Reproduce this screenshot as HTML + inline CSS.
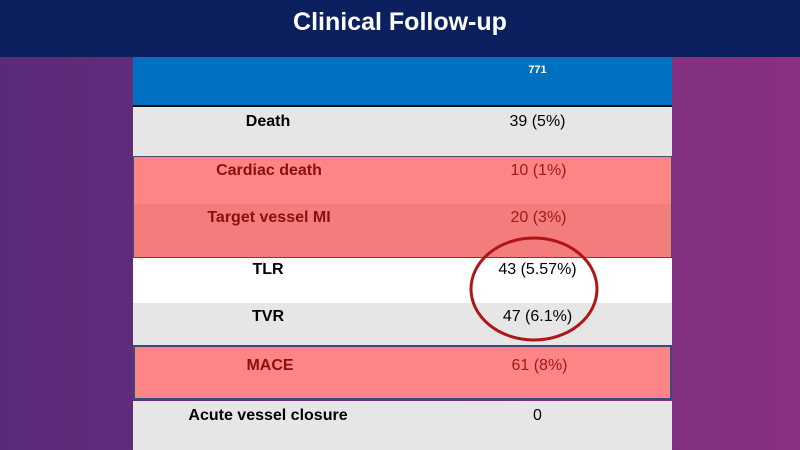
<!DOCTYPE html>
<html><head><meta charset="utf-8"><style>
body{margin:0;width:800px;height:450px;overflow:hidden;font-family:"Liberation Sans",Calibri,sans-serif;}
#bg{position:absolute;left:0;top:0;width:800px;height:450px;background:linear-gradient(90deg,#5a2a78,#6e2e7e 50%,#8a3080);}
#title{position:absolute;left:0;top:0;width:800px;height:57px;background:#0c1f5e;color:#fff;font-weight:bold;font-size:25px;text-align:center;line-height:44px;}
.r{position:absolute;left:133px;width:539px;font-size:16px;box-sizing:border-box;}
.r span{position:absolute;top:6px;}
.l{left:0;width:270px;text-align:center;font-weight:bold;}
.v{left:270px;width:269px;text-align:center;}
.red{color:#8b0f0f;}
.red .v{color:#a01818;}
</style></head><body>
<div id="bg"></div>
<div id="title">Clinical Follow-up</div>
<div class="r" style="top:57px;height:50px;background:#0070c0;border-bottom:2px solid #111;color:#fff"><span class="v" style="font-size:11px;font-weight:bold;top:7px">771</span></div>
<div class="r" style="top:107px;height:50px;background:#e6e6e6"><span class="l">Death</span><span class="v">39 (5%)</span></div>
<div class="r red" style="top:156px;height:48px;background:#fe8585;border:1px solid #4a4a7a;border-bottom:none"><span class="l" style="top:5px">Cardiac death</span><span class="v" style="top:5px">10 (1%)</span></div>
<div class="r red" style="top:204px;height:54px;background:#f37c7c;border:1px solid #4a4a7a;border-top:none"><span class="l" style="top:5px">Target vessel MI</span><span class="v" style="top:5px">20 (3%)</span></div>
<div class="r" style="top:258px;height:45px;background:#fff"><span class="l" style="top:3px">TLR</span><span class="v" style="top:3px">43 (5.57%)</span></div>
<div class="r" style="top:303px;height:43px;background:#e6e6e6"><span class="l" style="top:5px">TVR</span><span class="v" style="top:5px">47 (6.1%)</span></div>
<div class="r red" style="top:345px;height:55px;background:#fe8585;border:2px solid #3a4a7a"><span class="l" style="top:10px">MACE</span><span class="v" style="top:10px">61 (8%)</span></div>
<div class="r" style="top:401px;height:49px;background:#e6e6e6"><span class="l">Acute vessel closure</span><span class="v">0</span></div>
<svg style="position:absolute;left:0;top:0" width="800" height="450"><ellipse cx="534" cy="289" rx="63" ry="51" fill="none" stroke="#b01515" stroke-width="3"/></svg>
</body></html>
